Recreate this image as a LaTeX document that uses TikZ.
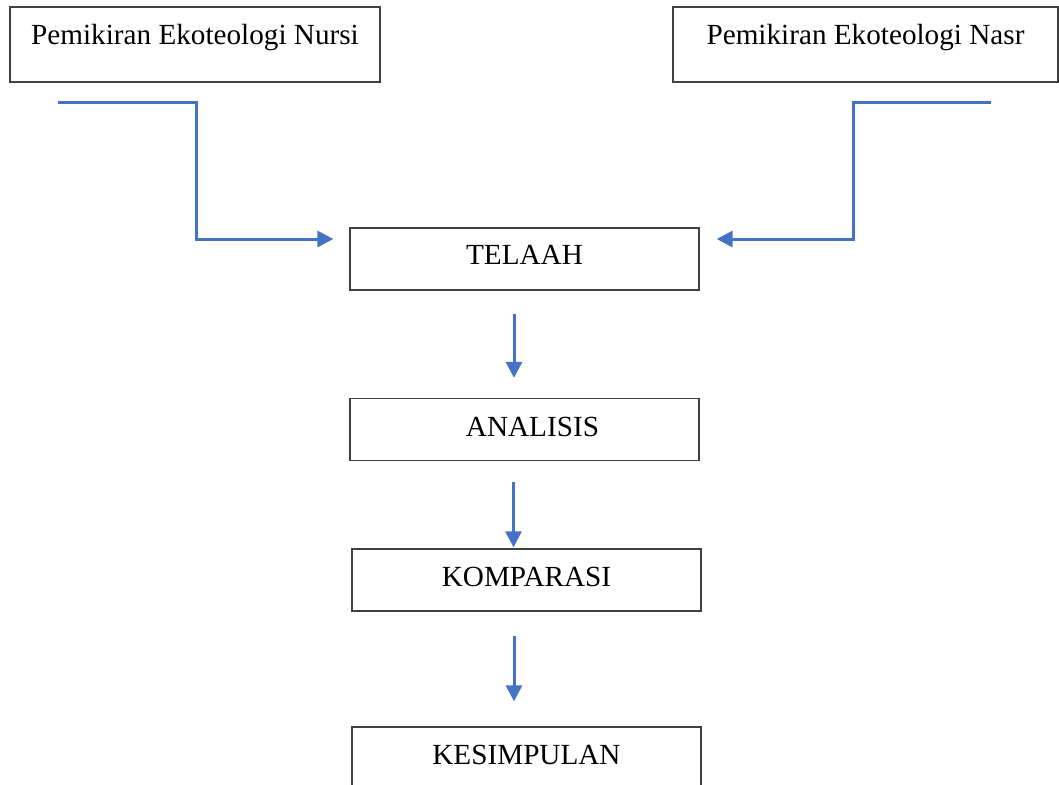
\documentclass[tikz,border=0pt]{standalone}
\usepackage{fontspec}
\setmainfont{Liberation Serif}
\usetikzlibrary{arrows.meta}
\definecolor{biru}{RGB}{68,114,196}

\begin{document}
\begin{tikzpicture}[x=1pt,y=-1pt,
  kotak/.style={draw=black!75, line width=1.3pt, inner sep=0pt,
    minimum width=349pt, minimum height=62pt,
    text height=19.3pt, text depth=#1,
    font=\fontsize{29.2}{34}\selectfont},
  kotak/.default=7pt,
  alur/.style={draw=biru, line width=3pt, -{Triangle[length=16pt,width=16pt]}}]
\useasboundingbox (0,0) rectangle (1059,784);
\node[kotak=20pt, minimum width=370pt, minimum height=75pt] (nursi) at (195,44.5) {Pemikiran Ekoteologi Nursi};
\node[kotak=20pt, minimum width=385pt, minimum height=75pt] (nasr) at (865.5,44.5) {Pemikiran Ekoteologi Nasr};
\node[kotak=8pt] (telaah) at (524.5,259) {TELAAH};
\node[kotak=6pt] (analisis) at (524.5,429.5) {\hspace*{16pt}ANALISIS};
\node[kotak=7pt] (komparasi) at (526.5,580) {KOMPARASI};
\node[kotak=7pt] (kesimpulan) at (526.5,758) {KESIMPULAN};
% garis masuk dari kedua pemikiran
\coordinate (nursiout) at (58,102);
\coordinate (nasrout) at (991,102);
\draw[alur] (nursiout) -- ++(138,0) |- ([xshift=-16pt,yshift=20pt]telaah.west);
\draw[alur] (nasrout) -- ++(-138,0) |- ([xshift=17pt,yshift=20pt]telaah.east);
% alur ke bawah
\draw[alur, shorten <=23pt, shorten >=20pt] ([xshift=-10.5pt]telaah.south) -- ([xshift=-10.5pt]analisis.north);
\draw[alur, shorten <=21pt, shorten >=1pt] ([xshift=-11pt]analisis.south) -- ([xshift=-13pt]komparasi.north);
\draw[alur, shorten <=24pt, shorten >=25pt] ([xshift=-12.5pt]komparasi.south) -- ([xshift=-12.5pt]kesimpulan.north);
\end{tikzpicture}
\end{document}
